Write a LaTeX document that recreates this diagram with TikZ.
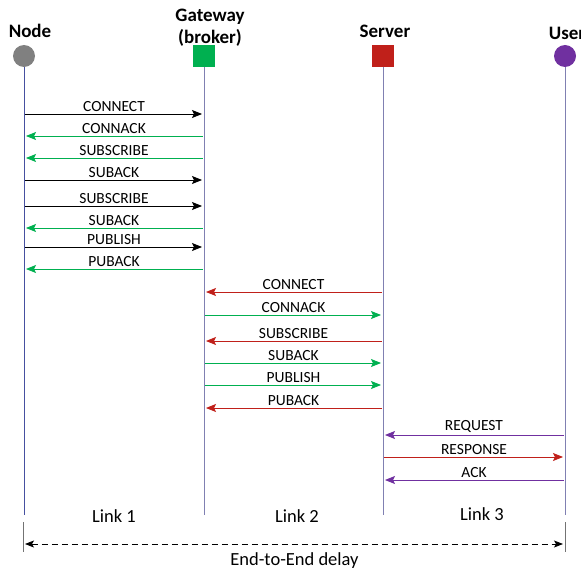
\documentclass[tikz,border=0pt]{standalone}
\usepackage{fontspec}
\setmainfont{Carlito}
\usetikzlibrary{positioning}
\usetikzlibrary{arrows.meta}
\definecolor{msggreen}{RGB}{0,176,80}
\definecolor{msgred}{RGB}{192,32,26}
\definecolor{msgpurple}{RGB}{112,48,160}
\definecolor{lifeblue}{RGB}{128,128,178}
\definecolor{nodeblue}{RGB}{70,80,160}
\tikzset{
  actor/.style    = { font=\bfseries\fontsize{19}{22}\selectfont, align=center, inner sep=1pt },
  dot/.style      = { circle, minimum size=22pt, inner sep=0pt },
  block/.style    = { rectangle, minimum size=22pt, inner sep=0pt },
  lifeline/.style = { draw=lifeblue, line width=1pt },
  msg/.style      = { ->, line width=0.9pt, shorten >=2pt, shorten <=1pt },
  tag/.style      = { midway, above=1pt, inner sep=1pt, text=black, font=\fontsize{15.5}{16}\selectfont },
  linktag/.style  = { font=\fontsize{18.5}{20}\selectfont },
  tick/.style     = { draw=black!55, line width=0.8pt },
}

\begin{document}
\begin{tikzpicture}[x=1pt,y=-1pt,>={Stealth[length=10pt,width=8pt,inset=2pt]}]
  \useasboundingbox (0,0) rectangle (581,575);

  % actors
  \node (node) [dot,fill=black!50]     at (24,56)  {};
  \node (gw)   [block,fill=msggreen]   at (204,56) {};
  \node (srv)  [block,fill=msgred]     at (383,56) {};
  \node (usr)  [dot,fill=msgpurple]    at (565,56) {};

  \node (nodelbl) [actor,above=6pt of node,xshift=6pt] {Node};
  \node (gwlbl)   [actor,above=-3pt of gw,xshift=6pt]  {Gateway\\(broker)};
  \node (srvlbl)  [actor,above=6pt of srv,xshift=2pt]  {Server};
  \node (usrlbl)  [actor,above=4pt of usr,xshift=2pt]  {User};

  % lifelines
  \coordinate (bottom) at (0,515);
  \draw [draw=nodeblue,line width=1pt] (node.south) -- (node |- bottom);
  \draw [lifeline] (gw.south)  -- (gw |- bottom);
  \draw [lifeline] (srv.south) -- (srv |- bottom);
  \draw [lifeline] (usr.south) -- (usr |- bottom);

  % message rows
  \coordinate (m1)  at (0,114);
  \coordinate (m2)  at (0,136);
  \coordinate (m3)  at (0,158);
  \coordinate (m4)  at (0,180);
  \coordinate (m5)  at (0,206);
  \coordinate (m6)  at (0,228);
  \coordinate (m7)  at (0,247);
  \coordinate (m8)  at (0,269);
  \coordinate (m9)  at (0,292);
  \coordinate (m10) at (0,315);
  \coordinate (m11) at (0,341);
  \coordinate (m12) at (0,363);
  \coordinate (m13) at (0,385);
  \coordinate (m14) at (0,408);
  \coordinate (m15) at (0,435);
  \coordinate (m16) at (0,457);
  \coordinate (m17) at (0,480);

  % link 1
  \draw [msg,black]    (node |- m1) -- (gw |- m1)   node [tag] {CONNECT};
  \draw [msg,msggreen] (gw |- m2)   -- (node |- m2) node [tag] {CONNACK};
  \draw [msg,msggreen] (gw |- m3)   -- (node |- m3) node [tag] {SUBSCRIBE};
  \draw [msg,black]    (node |- m4) -- (gw |- m4)   node [tag] {SUBACK};
  \draw [msg,black]    (node |- m5) -- (gw |- m5)   node [tag] {SUBSCRIBE};
  \draw [msg,msggreen] (gw |- m6)   -- (node |- m6) node [tag] {SUBACK};
  \draw [msg,black]    (node |- m7) -- (gw |- m7)   node [tag] {PUBLISH};
  \draw [msg,msggreen] (gw |- m8)   -- (node |- m8) node [tag] {PUBACK};

  % link 2
  \draw [msg,msgred]   (srv |- m9)  -- (gw |- m9)   node [tag] {CONNECT};
  \draw [msg,msggreen] (gw |- m10)  -- (srv |- m10) node [tag] {CONNACK};
  \draw [msg,msgred]   (srv |- m11) -- (gw |- m11)  node [tag] {SUBSCRIBE};
  \draw [msg,msggreen] (gw |- m12)  -- (srv |- m12) node [tag] {SUBACK};
  \draw [msg,msggreen] (gw |- m13)  -- (srv |- m13) node [tag] {PUBLISH};
  \draw [msg,msgred]   (srv |- m14) -- (gw |- m14)  node [tag] {PUBACK};

  % link 3
  \draw [msg,msgpurple] (usr |- m15) -- (srv |- m15) node [tag] {REQUEST};
  \draw [msg,msgred]    (srv |- m16) -- (usr |- m16) node [tag] {RESPONSE};
  \draw [msg,msgpurple] (usr |- m17) -- (srv |- m17) node [tag] {ACK};

  % links and delay
  \node (link1) [linktag] at (114,516) {Link 1};
  \node (link2) [linktag] at (297,516) {Link 2};
  \node (link3) [linktag] at (482,514) {Link 3};

  \coordinate (ticktop) at (0,522);
  \coordinate (tickbot) at (0,552);
  \coordinate (delay)   at (0,544);
  \draw [tick] ([xshift=-1pt]node |- ticktop) -- ([xshift=-1pt]node |- tickbot);
  \draw [tick] (usr |- ticktop) -- (usr |- tickbot);
  \draw [<->,dash pattern=on 6pt off 4pt,line width=0.9pt,shorten >=2pt,shorten <=1pt,
         >={Stealth[length=9pt,width=7pt,inset=2pt]}]
        (node |- delay) -- (usr |- delay)
        node (e2e) [midway,below=5pt,linktag] {End-to-End delay};
\end{tikzpicture}
\end{document}
